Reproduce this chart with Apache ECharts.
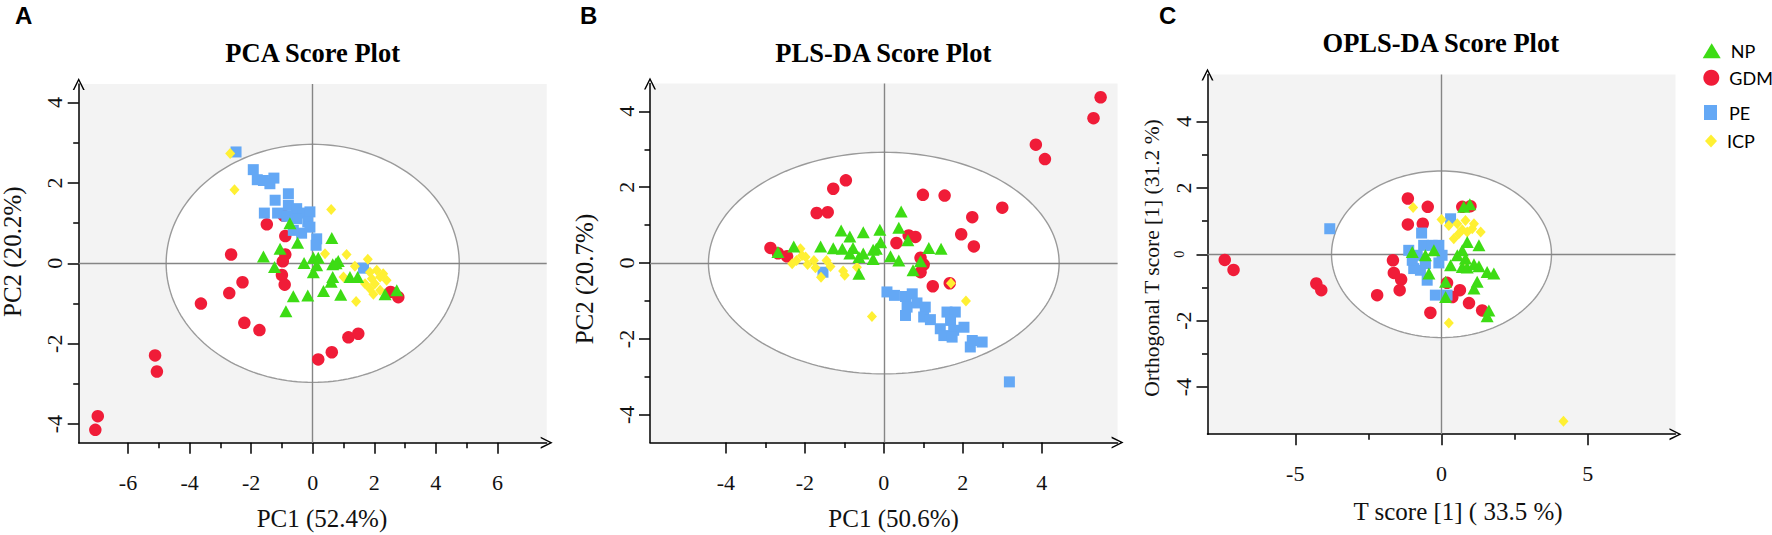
<!DOCTYPE html>
<html>
<head>
<meta charset="utf-8">
<script src="https://cdn.jsdelivr.net/npm/echarts@6/dist/echarts.min.js"></script>
<style>
html,body{margin:0;padding:0;background:#fff;}
#chart{width:1772px;height:535px;}
</style>
</head>
<body>
<div id="chart"></div>
<script>
// ---------- DATA ----------
const groupNames = ['NP', 'GDM', 'PE', 'ICP'];

// Panel A: PCA
const npA = [[-0.74,1.00],[-1.06,0.36],[-0.49,0.51],[-1.60,0.17],[-1.24,-0.09],[-0.28,0.01],[0.02,0.14],[0.18,0.14],[0.02,-0.22],[0.62,0.63],[0.65,-0.02],[0.83,0.06],[0.65,-0.34],[0.60,-0.46],[0.35,-0.69],[0.91,-0.78],[1.21,-0.34],[1.46,-0.34],[-0.63,-0.82],[-0.16,-0.80],[-0.87,-1.19],[2.35,-0.77],[2.73,-0.67],[0.13,-0.05],[0.76,0.0]];
const gdmA = [[-1.49,0.97],[-0.89,0.68],[-2.65,0.22],[-0.89,0.22],[-0.97,0.05],[-1.0,-0.29],[-0.91,-0.53],[-2.28,-0.47],[-2.71,-0.74],[-3.63,-1.00],[-2.22,-1.48],[-1.73,-1.66],[0.18,-2.39],[0.62,-2.21],[1.16,-1.84],[1.48,-1.75],[2.53,-0.71],[2.78,-0.84],[-5.12,-2.29],[-5.06,-2.69],[-6.98,-3.80],[-7.06,-4.14],[-0.95,1.19]];
const peA = [[-2.49,2.77],[-1.93,2.33],[-1.80,2.08],[-1.60,2.06],[-1.26,2.12],[-1.39,1.98],[-0.79,1.73],[-1.22,1.57],[-1.57,1.25],[-1.14,1.25],[-0.79,1.44],[-0.52,1.36],[-0.30,1.25],[-0.09,1.28],[-0.16,1.03],[-0.52,1.11],[-0.63,0.82],[-0.36,0.75],[-0.09,0.90],[0.13,0.61],[0.11,0.45],[-0.84,1.17],[1.65,-0.12]];
const icpA = [[-2.68,2.73],[-2.54,1.83],[0.60,1.34],[0.40,0.24],[1.10,0.22],[1.79,0.10],[1.37,-0.07],[1.41,-0.95],[1.0,-0.34],[1.86,-0.22],[2.08,-0.17],[2.29,-0.26],[1.92,-0.38],[2.19,-0.34],[2.02,-0.51],[1.86,-0.63],[2.19,-0.67],[1.97,-0.77],[1.70,-0.51],[2.40,-0.42]];

// Panel B: PLS-DA
const npB = [[0.44,1.36],[0.38,0.93],[-0.10,0.88],[-0.52,0.81],[-1.08,0.86],[-0.86,0.70],[-1.60,0.44],[-1.28,0.39],[-1.05,0.38],[-0.78,0.40],[-0.86,0.25],[-0.63,0.16],[-0.27,0.11],[-0.19,0.38],[-0.08,0.55],[0.17,0.18],[0.38,0.07],[0.61,0.60],[1.14,0.40],[1.45,0.38],[0.93,0.05],[0.74,-0.19],[-0.63,-0.28],[-2.28,0.44],[-2.68,0.29],[-0.52,0.25],[-0.27,0.35]];
const gdmB = [[-1.28,1.96],[-0.96,2.18],[-1.70,1.32],[-1.42,1.34],[-2.87,0.40],[-2.68,0.26],[-2.45,0.18],[0.99,1.80],[1.54,1.78],[3.0,1.46],[2.24,1.21],[1.96,0.76],[2.28,0.44],[0.63,0.73],[0.80,0.69],[0.32,0.53],[0.93,0.14],[1.01,-0.04],[0.93,-0.24],[1.24,-0.61],[1.67,-0.53],[5.49,4.37],[5.31,3.82],[3.85,3.12],[4.08,2.74]];
const peB = [[-1.54,-0.24],[0.08,-0.76],[0.27,-0.85],[0.55,-0.88],[0.72,-0.81],[0.59,-1.16],[0.84,-1.05],[1.05,-1.16],[1.01,-1.42],[1.18,-1.49],[0.55,-1.38],[1.60,-1.29],[1.81,-1.29],[1.69,-1.51],[1.43,-1.73],[1.77,-1.77],[2.03,-1.69],[1.52,-1.91],[1.73,-1.95],[2.24,-2.04],[2.49,-2.08],[2.19,-2.21],[3.18,-3.13]];
const icpB = [[-2.11,0.38],[-2.21,0.07],[-1.98,0.16],[-1.77,0.07],[-1.93,-0.04],[-1.73,-0.12],[-1.45,0.07],[-1.35,-0.09],[-1.59,-0.37],[-1.03,-0.21],[-0.99,-0.32],[-0.68,-0.11],[-0.30,-1.41],[1.70,-0.53],[2.08,-1.00],[-2.32,-0.02],[-2.07,0.20]];

// Panel C: OPLS-DA
const npC = [[0.76,1.43],[0.97,1.51],[0.88,0.37],[1.28,0.27],[0.71,0.12],[0.54,-0.03],[0.31,-0.33],[0.71,-0.38],[0.88,-0.40],[1.11,-0.30],[1.28,-0.36],[1.56,-0.53],[1.79,-0.58],[1.22,-0.83],[1.11,-1.03],[0.14,-0.83],[0.14,-1.29],[-0.43,-0.58],[-1.00,0.07],[-0.55,-0.03],[-0.26,0.12],[1.62,-1.69],[1.56,-1.87],[0.82,-0.13]];
const gdmC = [[-1.15,1.68],[-0.47,1.43],[-1.15,0.90],[-0.64,0.92],[-1.66,-0.18],[-1.63,-0.56],[-1.38,-0.76],[-1.43,-1.08],[-2.20,-1.23],[-0.38,-1.76],[0.63,-1.08],[0.19,-0.86],[0.37,-1.29],[0.94,-1.47],[1.39,-1.69],[0.99,1.45],[0.71,1.43],[-4.28,-0.88],[-4.11,-1.08],[-7.41,-0.17],[-7.11,-0.47]];
const peC = [[-3.82,0.77],[-0.68,0.64],[-1.12,0.12],[-0.83,-0.03],[-0.61,0.27],[-0.32,0.27],[-0.09,0.27],[0.02,-0.03],[-0.09,-0.26],[-0.55,-0.28],[-0.95,-0.43],[-0.72,-0.48],[-0.49,-0.78],[-0.21,-1.23],[0.19,-1.23],[-1.0,-0.18],[0.31,1.07]];
const icpC = [[-0.97,1.41],[0.0,1.05],[0.25,0.87],[0.54,0.92],[0.82,1.02],[1.11,0.92],[0.71,0.74],[0.88,0.67],[1.34,0.67],[0.42,0.47],[0.59,0.62],[1.05,0.77],[0.82,-0.18],[0.25,-2.07],[4.17,-5.03]];

// Axis ranges and ticks
const xRangeA = [-7.6, 7.6],   yRangeA = [-4.46, 4.46];
const xRangeB = [-5.92, 5.92], yRangeB = [-4.73, 4.73];
const xRangeC = [-8, 8],       yRangeC = [-5.42, 5.42];
const xTicksA = [-6,-4,-2,0,2,4,6], xMinorA = [-5,-3,-1,1,3,5];
const yTicksA = [-4,-2,0,2,4],      yMinorA = [-3,-1,1,3];
const xTicksB = [-4,-2,0,2,4],      xMinorB = [-3,-1,1,3];
const yTicksB = [-4,-2,0,2,4],      yMinorB = [-3,-1,1,3];
const xTicksC = [-5,0,5],           xMinorC = [-2.5,2.5];
const yTicksC = [-4,-2,0,2,4],      yMinorC = [-3,-1,1,3];

// Confidence ellipses: [centerX, centerY, semiAxisX, semiAxisY]
const ellipseA = [0, 0, 4.76, 2.96];
const ellipseB = [0, 0, 4.44, 2.92];
const ellipseC = [0, 0, 3.76, 2.51];

// Text
const panelLetters = ['A', 'B', 'C'];
const panelTitles = ['PCA Score Plot', 'PLS-DA Score Plot', 'OPLS-DA Score Plot'];
const xNames = ['PC1 (52.4%)', 'PC1 (50.6%)', 'T score [1] ( 33.5 %)'];
const yNames = ['PC2 (20.2%)', 'PC2 (20.7%)', 'Orthogonal T score [1] (31.2 %)'];

// ---------- STYLE / LAYOUT ----------
const colors = { NP: '#3ddc14', GDM: '#f01c38', PE: '#64a8f5', ICP: '#fff033' };
const symbols = { NP: 'triangle', GDM: 'circle', PE: 'rect', ICP: 'diamond' };
const symSizes = { NP: [13, 12], GDM: 12.5, PE: 11, ICP: [10, 11] };
const zOrder = { GDM: 3, PE: 4, ICP: 5, NP: 6 };
const SERIF = '"Liberation Serif", "Times New Roman", serif';
const arrowPath = 'path://M0,12 L6,0 L12,12 L10.4,12 L6,3 L1.6,12 Z';

const panels = [
  { grid: { left: 78.7, top: 84, width: 468, height: 358.7 }, xr: xRangeA, yr: yRangeA,
    xt: xTicksA, xm: xMinorA, yt: yTicksA, ym: yMinorA, ell: ellipseA,
    data: { NP: npA, GDM: gdmA, PE: peA, ICP: icpA },
    title: [312.7, 52.6], letter: [15, 15.5], xName: [322, 518.5], yName: [12.5, 251.7], yNameSize: 25, xLabelMargin: 29 },
  { grid: { left: 650, top: 83.6, width: 467.6, height: 359 }, xr: xRangeB, yr: yRangeB,
    xt: xTicksB, xm: xMinorB, yt: yTicksB, ym: yMinorB, ell: ellipseB,
    data: { NP: npB, GDM: gdmB, PE: peB, ICP: icpB },
    title: [883.3, 52.6], letter: [580, 15.5], xName: [893.6, 518.5], yName: [584, 279], yNameSize: 25, xLabelMargin: 29 },
  { grid: { left: 1207.5, top: 74.4, width: 468, height: 359.8 }, xr: xRangeC, yr: yRangeC,
    xt: xTicksC, xm: xMinorC, yt: yTicksC, ym: yMinorC, ell: ellipseC,
    data: { NP: npC, GDM: gdmC, PE: peC, ICP: icpC },
    title: [1440.8, 43.3], letter: [1159, 15.5], xName: [1458, 511], yName: [1151.7, 258], yNameSize: 21.5, xLabelMargin: 28, smallZero: true }
];

const grids = [], xAxes = [], yAxes = [], series = [], graphics = [];

panels.forEach((p, i) => {
  grids.push(Object.assign({ show: true, backgroundColor: '#f3f3f3', borderWidth: 0 }, p.grid));
  const lineStyle = { color: '#000', width: 1.5 };
  // main x axis (labelled ticks)
  xAxes.push({
    type: 'value', gridIndex: i, min: p.xr[0], max: p.xr[1], position: 'bottom',
    axisLine: { show: true, onZero: false, lineStyle, symbol: ['none', arrowPath], symbolSize: [12, 12] },
    axisTick: { show: true, customValues: p.xt, length: 11, lineStyle },
    axisLabel: { show: true, customValues: p.xt, margin: p.xLabelMargin, fontSize: 22, fontFamily: SERIF, color: '#111',
                 formatter: v => String(v) },
    splitLine: { show: false }
  });
  // minor x axis (short ticks only)
  xAxes.push({
    type: 'value', gridIndex: i, min: p.xr[0], max: p.xr[1], position: 'bottom', offset: 0,
    axisLine: { show: false, onZero: false },
    axisTick: { show: true, customValues: p.xm, length: 5.5, lineStyle },
    axisLabel: { show: false }, splitLine: { show: false }
  });
  // main y axis
  yAxes.push({
    type: 'value', gridIndex: i, min: p.yr[0], max: p.yr[1], position: 'left',
    axisLine: { show: true, onZero: false, lineStyle, symbol: ['none', arrowPath], symbolSize: [12, 12] },
    axisTick: { show: true, customValues: p.yt, length: 11, lineStyle },
    axisLabel: { show: true, customValues: p.yt, rotate: 90, margin: 13, fontSize: 22, fontFamily: SERIF, color: '#111',
                 formatter: v => (p.smallZero && v === 0) ? '{s|0}' : String(v),
                 rich: { s: { fontSize: 14, fontFamily: SERIF, color: '#111', padding: [0, 0, 8, 0] } } },
    splitLine: { show: false }
  });
  // minor y axis
  yAxes.push({
    type: 'value', gridIndex: i, min: p.yr[0], max: p.yr[1], position: 'left', offset: 0,
    axisLine: { show: false, onZero: false },
    axisTick: { show: true, customValues: p.ym, length: 5.5, lineStyle },
    axisLabel: { show: false }, splitLine: { show: false }
  });

  const xi = i * 2, yi = i * 2;
  // confidence ellipse (white inside, grey outline)
  series.push({
    type: 'custom', xAxisIndex: xi, yAxisIndex: yi, z: 1, silent: true,
    data: [p.ell], encode: { x: 0, y: 1 },
    renderItem: (params, api) => {
      const cx = api.value(0), cy = api.value(1), a = api.value(2), b = api.value(3);
      const pts = [];
      for (let k = 0; k <= 180; k++) {
        const t = k / 180 * Math.PI * 2;
        pts.push(api.coord([cx + a * Math.cos(t), cy + b * Math.sin(t)]));
      }
      return { type: 'polygon', shape: { points: pts }, style: { fill: '#ffffff', stroke: '#9a9a9a', lineWidth: 1.4 } };
    }
  });
  // crosshair at x = 0 and y = 0
  series.push({
    type: 'scatter', xAxisIndex: xi, yAxisIndex: yi, z: 2, data: [], silent: true,
    markLine: { silent: true, z: 2, symbol: ['none', 'none'], label: { show: false },
      lineStyle: { color: '#858585', width: 1.4, type: 'solid' },
      emphasis: { disabled: true },
      data: [{ xAxis: 0 }, { yAxis: 0 }] }
  });
  // groups
  ['GDM', 'PE', 'ICP', 'NP'].forEach(g => {
    series.push({
      name: g, type: 'scatter', xAxisIndex: xi, yAxisIndex: yi, z: zOrder[g],
      symbol: symbols[g], symbolSize: symSizes[g],
      itemStyle: { color: colors[g], opacity: 1 },
      data: p.data[g]
    });
  });

  // texts
  graphics.push({ type: 'text', x: p.letter[0], y: p.letter[1],
    style: { text: panelLetters[i], font: 'bold 24px "Liberation Sans", Arial, sans-serif', fill: '#000', textAlign: 'left', textVerticalAlign: 'middle', verticalAlign: 'middle' } });
  graphics.push({ type: 'text', x: p.title[0], y: p.title[1],
    style: { text: panelTitles[i], font: 'bold 26.5px ' + SERIF, fill: '#000', textAlign: 'center', textVerticalAlign: 'middle', verticalAlign: 'middle' } });
  graphics.push({ type: 'text', x: p.xName[0], y: p.xName[1],
    style: { text: xNames[i], font: '25px ' + SERIF, fill: '#111', textAlign: 'center', textVerticalAlign: 'middle', verticalAlign: 'middle' } });
  graphics.push({ type: 'text', x: p.yName[0], y: p.yName[1], rotation: Math.PI / 2,
    style: { text: yNames[i], font: p.yNameSize + 'px ' + SERIF, fill: '#111', textAlign: 'center', textVerticalAlign: 'middle', verticalAlign: 'middle' } });
});

// legends (one per entry to match the uneven spacing)
const legendSpec = [
  { name: 'NP',  left: 1702.7, top: 41.8,  w: 18, h: 15, pad: 5 },
  { name: 'GDM', left: 1703.3, top: 68.8,  w: 16, h: 17, pad: 5 },
  { name: 'PE',  left: 1704,   top: 103.5, w: 13, h: 15, pad: 7 },
  { name: 'ICP', left: 1705,   top: 132,   w: 12, h: 13, pad: 5 }
];
const legends = legendSpec.map(l => ({
  data: [{ name: l.name, icon: symbols[l.name] }],
  left: l.left, top: l.top, itemWidth: l.w, itemHeight: l.h, padding: 0,
  selectedMode: false,
  textStyle: { fontFamily: 'Lato, "Open Sans", sans-serif', fontSize: 18, color: '#000', padding: [0, 0, 0, l.pad] }
}));

const chart = echarts.init(document.getElementById('chart'), null, { renderer: 'svg' });
chart.setOption({
  animation: false,
  backgroundColor: '#ffffff',
  grid: grids, xAxis: xAxes, yAxis: yAxes,
  legend: legends,
  series: series,
  graphic: graphics
});
</script>
</body>
</html>
